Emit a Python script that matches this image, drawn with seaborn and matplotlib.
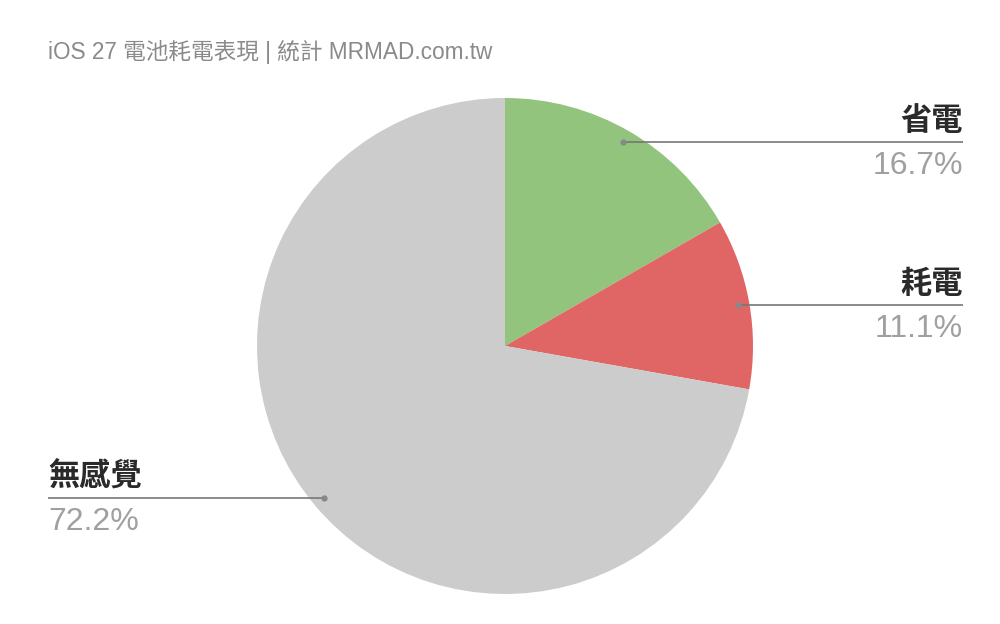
import numpy as np
import matplotlib
matplotlib.use("Agg")
import matplotlib.pyplot as plt
import seaborn as sns

# data
categories = ["省電", "耗電", "無感覺"]
values = [16.7, 11.1, 72.2]
colors = ["#93c47d", "#e06666", "#cccccc"]
title = "iOS 27 電池耗電表現 | 統計 MRMAD.com.tw"

sns.set_theme(style="white")
plt.rcParams['font.family'] = ['Liberation Sans', 'Noto Sans CJK TC', 'DejaVu Sans']

W, H = 1000, 624
fig = plt.figure(figsize=(W / 100, H / 100), dpi=100)
ax = fig.add_axes([0, 0, 1, 1])

cx, cy, R = 505, H - 346, 248
wedges, _ = ax.pie(values, colors=colors, startangle=90, counterclock=False,
                   center=(cx, cy), radius=R, frame=True,
                   wedgeprops=dict(linewidth=0))
ax.set_xlim(0, W)
ax.set_ylim(0, H)
ax.set_aspect('equal')
ax.axis('off')

for w, name, v in zip(wedges, categories, values):
    mid = np.deg2rad((w.theta1 + w.theta2) / 2)
    px = cx + 0.952 * R * np.cos(mid)
    py = cy + 0.952 * R * np.sin(mid)
    if np.cos(mid) >= 0:
        xe, ha = 963, 'right'
    else:
        xe, ha = 48, 'left'
    ax.plot([px, xe], [py, py], color="#777777", lw=1.2, solid_capstyle='butt')
    ax.plot([px], [py], 'o', color="#888888", ms=3.5)
    ax.text(xe, py + 5, name, ha=ha, va='bottom', fontsize=22.5, color="#2a2a2a",
            family=['Noto Sans CJK TC'], fontweight='bold')
    ax.text(xe, py - 9, f"{v:.1f}%", ha=ha, va='top', fontsize=23, color="#a0a0a0",
            family=['Liberation Sans', 'DejaVu Sans'])

fig.text(48 / W, 1 - 52 / H, title, ha='left', va='center', fontsize=16.3, color="#8a8a8a",
         family=['Liberation Sans', 'Noto Sans CJK TC', 'DejaVu Sans'])

fig.savefig("out.png", dpi=100, facecolor='white')
